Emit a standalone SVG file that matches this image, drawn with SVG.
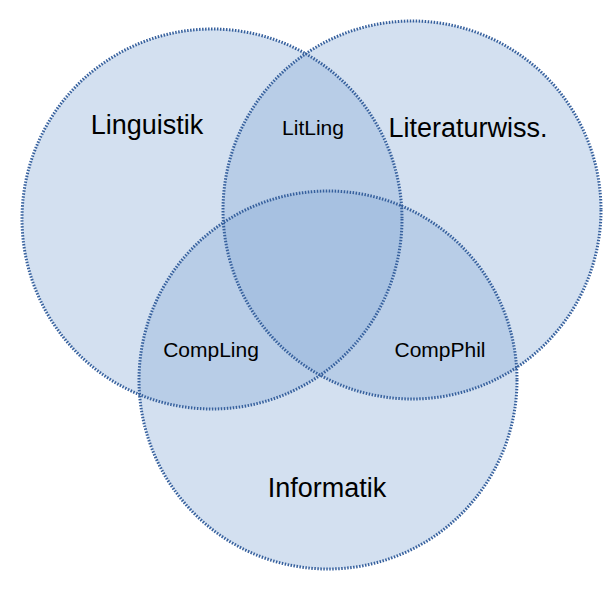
<svg xmlns="http://www.w3.org/2000/svg" width="616" height="593" viewBox="0 0 616 593">
<style>
.fill{fill:#8eb0d9;fill-opacity:0.39;stroke:none}
.edge{fill:none;stroke:#36609d;stroke-width:3;stroke-dasharray:1.5 1.5}
.big{font-family:"Liberation Sans",Arial,sans-serif;font-size:27px;fill:#000;text-anchor:middle}
.small{font-family:"Liberation Sans",Arial,sans-serif;font-size:21px;fill:#000;text-anchor:middle}
</style>
<rect width="616" height="593" fill="#fff"/>
<g id="fills">
<circle class="fill" cx="212" cy="219" r="190"/>
<circle class="fill" cx="412" cy="210" r="189"/>
<circle class="fill" cx="328" cy="380" r="189"/>
</g>
<g id="linguistik">
<circle class="edge" cx="212" cy="219" r="190"/>
<text class="big" x="147" y="134">Linguistik</text>
</g>
<g id="literaturwiss">
<circle class="edge" cx="412" cy="210" r="189"/>
<text class="big" x="468" y="137">Literaturwiss.</text>
</g>
<g id="informatik">
<circle class="edge" cx="328" cy="380" r="189"/>
<text class="big" x="327" y="497">Informatik</text>
</g>
<g id="litling"><text class="small" x="313" y="135">LitLing</text></g>
<g id="compling"><text class="small" x="211" y="357">CompLing</text></g>
<g id="compphil"><text class="small" x="440" y="357">CompPhil</text></g>
<g id="connectors"/>
</svg>
